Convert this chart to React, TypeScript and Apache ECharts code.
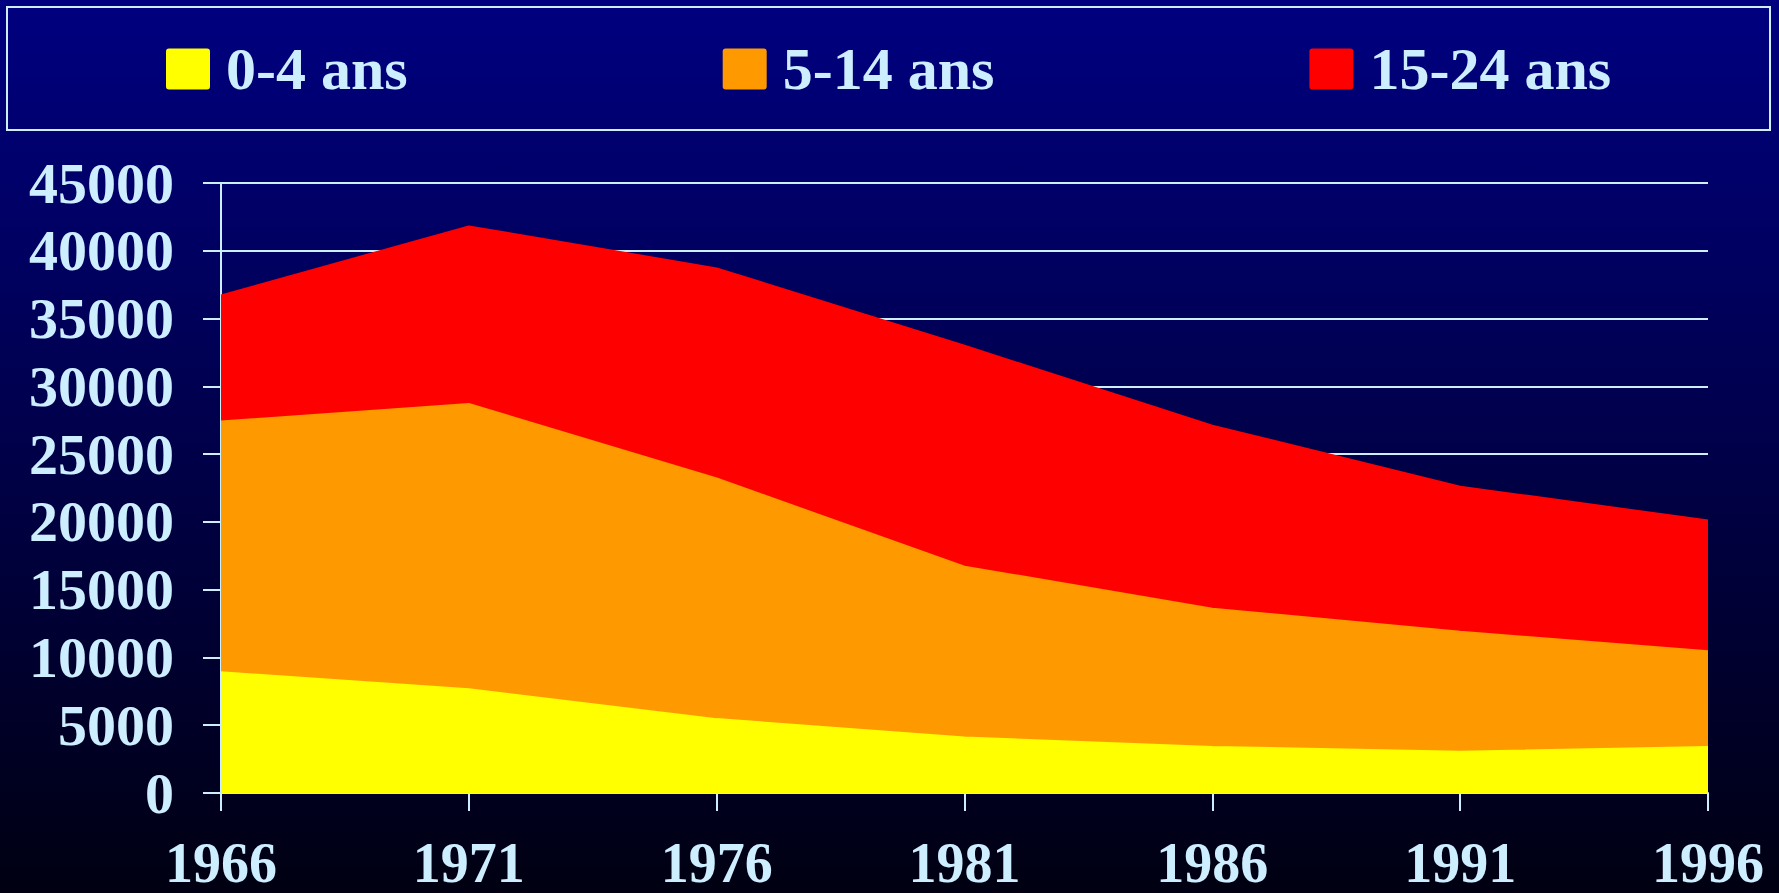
import React, { useEffect, useRef } from "react";
import * as echarts from "echarts";

const years = ["1966", "1971", "1976", "1981", "1986", "1991", "1996"];
const age0to4 = [8900, 7650, 5450, 4100, 3400, 3050, 3400];
const age5to14 = [18500, 21050, 17750, 12600, 10200, 8850, 7050];
const age15to24 = [9300, 13100, 15500, 16300, 13500, 10700, 9650];
const seriesNames = ["0-4 ans", "5-14 ans", "15-24 ans"];
const seriesColors = ["#ffff00", "#ff9900", "#ff0000"];

const LABEL = "#cdeeff";
const FONT = "'Liberation Serif', 'Times New Roman', serif";
const LEGEND_ICON =
  "path://M3,0 L41,0 Q44,0 44,3 L44,38 Q44,41 41,41 L3,41 Q0,41 0,38 L0,3 Q0,0 3,0 Z";

export default function App() {
  const ref = useRef<HTMLDivElement>(null);
  useEffect(() => {
    if (!ref.current) return;
    const chart = echarts.init(ref.current, null, { renderer: "svg" });
    const data = [age0to4, age5to14, age15to24];
    chart.setOption({
      animation: false,
      backgroundColor: {
        type: "linear",
        x: 0,
        y: 0,
        x2: 0,
        y2: 1,
        colorStops: [
          { offset: 0, color: "#000080" },
          { offset: 0.5, color: "#00004a" },
          { offset: 1, color: "#000012" },
        ],
      },
      textStyle: { fontFamily: FONT },
      graphic: [
        {
          type: "rect",
          shape: { x: 7, y: 7, width: 1763, height: 123 },
          style: { fill: "none", stroke: LABEL, lineWidth: 2 },
          silent: true,
        },
      ],
      legend: {
        left: 166,
        top: 39,
        padding: 0,
        itemGap: 315,
        itemWidth: 44,
        itemHeight: 41,
        icon: LEGEND_ICON,
        data: seriesNames,
        textStyle: {
          color: LABEL,
          fontSize: 60,
          fontWeight: "bold",
          fontFamily: FONT,
          padding: [0, 0, 0, 11],
        },
      },
      grid: { left: 221, right: 71, top: 183, bottom: 100, containLabel: false },
      xAxis: {
        type: "category",
        data: years,
        boundaryGap: false,
        axisLine: { show: true, lineStyle: { color: LABEL, width: 2 } },
        axisTick: { show: true, length: 18, lineStyle: { color: LABEL, width: 2 } },
        axisLabel: {
          color: LABEL,
          fontSize: 56,
          lineHeight: 44,
          fontWeight: "bold",
          fontFamily: FONT,
          margin: 48,
        },
        splitLine: { show: false },
      },
      yAxis: {
        type: "value",
        min: 0,
        max: 45000,
        interval: 5000,
        axisLine: { show: true, lineStyle: { color: LABEL, width: 2 } },
        axisTick: { show: true, length: 18, lineStyle: { color: LABEL, width: 2 } },
        axisLabel: {
          color: LABEL,
          fontSize: 58,
          fontWeight: "bold",
          fontFamily: FONT,
          margin: 47,
          padding: [8, 0, 0, 0],
          formatter: (v: number) => String(v),
        },
        splitLine: { show: true, lineStyle: { color: LABEL, width: 2 } },
      },
      series: seriesNames.map((name, i) => ({
        name,
        type: "line",
        stack: "total",
        data: data[i],
        symbol: "none",
        z: 3,
        itemStyle: { color: seriesColors[i] },
        lineStyle: { color: seriesColors[i], width: 2 },
        areaStyle: { color: seriesColors[i], opacity: 1 },
      })),
    });
    return () => chart.dispose();
  }, []);
  return (
    <div
      ref={ref}
      style={{ position: "fixed", left: 0, top: 0, width: 1779, height: 893 }}
    />
  );
}
